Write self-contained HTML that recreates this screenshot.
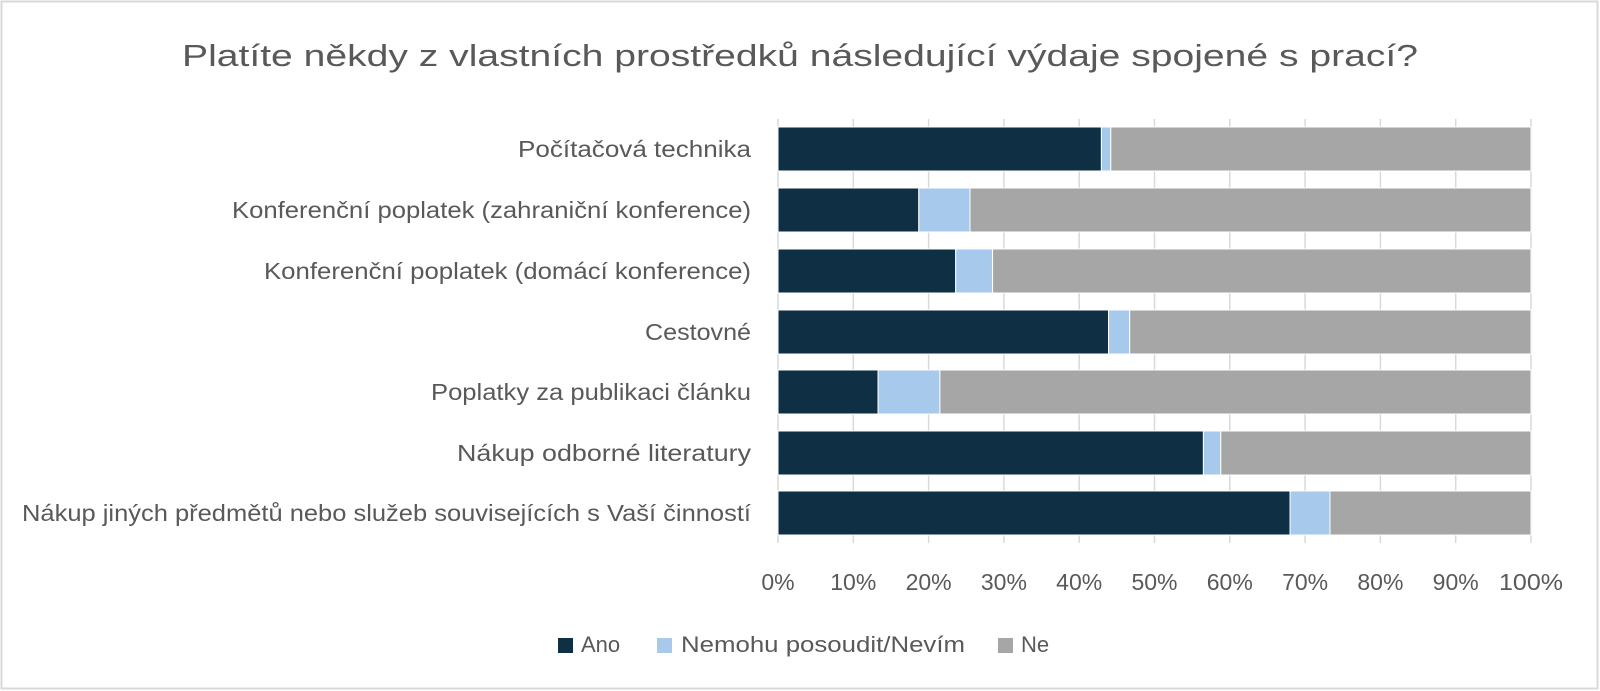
<!DOCTYPE html>
<html><head><meta charset="utf-8"><style>
html,body{margin:0;padding:0;background:#fff;}
svg{display:block;}
text{font-family:"Liberation Sans",sans-serif;fill:#595959;}
</style></head><body>
<svg width="1600" height="691" viewBox="0 0 1600 691" xmlns="http://www.w3.org/2000/svg">
<rect x="1.5" y="1.5" width="1596" height="687" fill="#fff" stroke="#d9d9d9" stroke-width="2"/>
<text x="800" y="66" text-anchor="middle" font-size="31" textLength="1236" lengthAdjust="spacingAndGlyphs">Platíte někdy z vlastních prostředků následující výdaje spojené s prací?</text>
<g stroke="#d9d9d9" stroke-width="1.5">
<line x1="778" y1="119" x2="778" y2="543"/>
<line x1="853.3" y1="119" x2="853.3" y2="543"/>
<line x1="928.6" y1="119" x2="928.6" y2="543"/>
<line x1="1003.9" y1="119" x2="1003.9" y2="543"/>
<line x1="1079.2" y1="119" x2="1079.2" y2="543"/>
<line x1="1154.5" y1="119" x2="1154.5" y2="543"/>
<line x1="1229.8" y1="119" x2="1229.8" y2="543"/>
<line x1="1305.1" y1="119" x2="1305.1" y2="543"/>
<line x1="1380.4" y1="119" x2="1380.4" y2="543"/>
<line x1="1455.7" y1="119" x2="1455.7" y2="543"/>
<line x1="1531" y1="119" x2="1531" y2="543"/>
</g>
<g stroke="#fff" stroke-width="1">
<rect x="778" y="127" width="323.4" height="44" fill="#0e2f44"/>
<rect x="1101.4" y="127" width="9.4" height="44" fill="#a6c9ec"/>
<rect x="1110.8" y="127" width="420.2" height="44" fill="#a6a6a6"/>
<rect x="778" y="188" width="140.8" height="44" fill="#0e2f44"/>
<rect x="918.8" y="188" width="51.2" height="44" fill="#a6c9ec"/>
<rect x="970" y="188" width="561" height="44" fill="#a6a6a6"/>
<rect x="778" y="249" width="177.7" height="44" fill="#0e2f44"/>
<rect x="955.7" y="249" width="36.9" height="44" fill="#a6c9ec"/>
<rect x="992.6" y="249" width="538.4" height="44" fill="#a6a6a6"/>
<rect x="778" y="310" width="330.6" height="44" fill="#0e2f44"/>
<rect x="1108.6" y="310" width="21.1" height="44" fill="#a6c9ec"/>
<rect x="1129.7" y="310" width="401.3" height="44" fill="#a6a6a6"/>
<rect x="778" y="370" width="100.1" height="44" fill="#0e2f44"/>
<rect x="878.1" y="370" width="61.8" height="44" fill="#a6c9ec"/>
<rect x="939.9" y="370" width="591.1" height="44" fill="#a6a6a6"/>
<rect x="778" y="431" width="425.4" height="44" fill="#0e2f44"/>
<rect x="1203.4" y="431" width="17.4" height="44" fill="#a6c9ec"/>
<rect x="1220.8" y="431" width="310.2" height="44" fill="#a6a6a6"/>
<rect x="778" y="491" width="512" height="44" fill="#0e2f44"/>
<rect x="1290" y="491" width="40" height="44" fill="#a6c9ec"/>
<rect x="1330" y="491" width="201" height="44" fill="#a6a6a6"/>
</g>
<g font-size="23" text-anchor="end" lengthAdjust="spacingAndGlyphs">
<text x="751" y="157" textLength="233" lengthAdjust="spacingAndGlyphs">Počítačová technika</text>
<text x="751" y="218" textLength="519" lengthAdjust="spacingAndGlyphs">Konferenční poplatek (zahraniční konference)</text>
<text x="751" y="279" textLength="487" lengthAdjust="spacingAndGlyphs">Konferenční poplatek (domácí konference)</text>
<text x="751" y="340" textLength="106" lengthAdjust="spacingAndGlyphs">Cestovné</text>
<text x="751" y="400" textLength="320" lengthAdjust="spacingAndGlyphs">Poplatky za publikaci článku</text>
<text x="751" y="461" textLength="294" lengthAdjust="spacingAndGlyphs">Nákup odborné literatury</text>
<text x="751" y="521" textLength="729" lengthAdjust="spacingAndGlyphs">Nákup jiných předmětů nebo služeb souvisejících s Vaší činností</text>
</g>
<g font-size="23" text-anchor="middle">
<text x="778" y="590">0%</text>
<text x="853.3" y="590">10%</text>
<text x="928.6" y="590">20%</text>
<text x="1003.9" y="590">30%</text>
<text x="1079.2" y="590">40%</text>
<text x="1154.5" y="590">50%</text>
<text x="1229.8" y="590">60%</text>
<text x="1305.1" y="590">70%</text>
<text x="1380.4" y="590">80%</text>
<text x="1455.7" y="590">90%</text>
<text x="1531" y="590" textLength="64" lengthAdjust="spacingAndGlyphs">100%</text>
</g>
<rect x="558" y="638" width="15" height="15" fill="#0e2f44"/>
<text x="581" y="652" font-size="22">Ano</text>
<rect x="657" y="638" width="15" height="15" fill="#a6c9ec"/>
<text x="681" y="652" font-size="22" textLength="284" lengthAdjust="spacingAndGlyphs">Nemohu posoudit/Nevím</text>
<rect x="998" y="638" width="15" height="15" fill="#a6a6a6"/>
<text x="1021" y="652" font-size="22">Ne</text>
</svg>
</body></html>
